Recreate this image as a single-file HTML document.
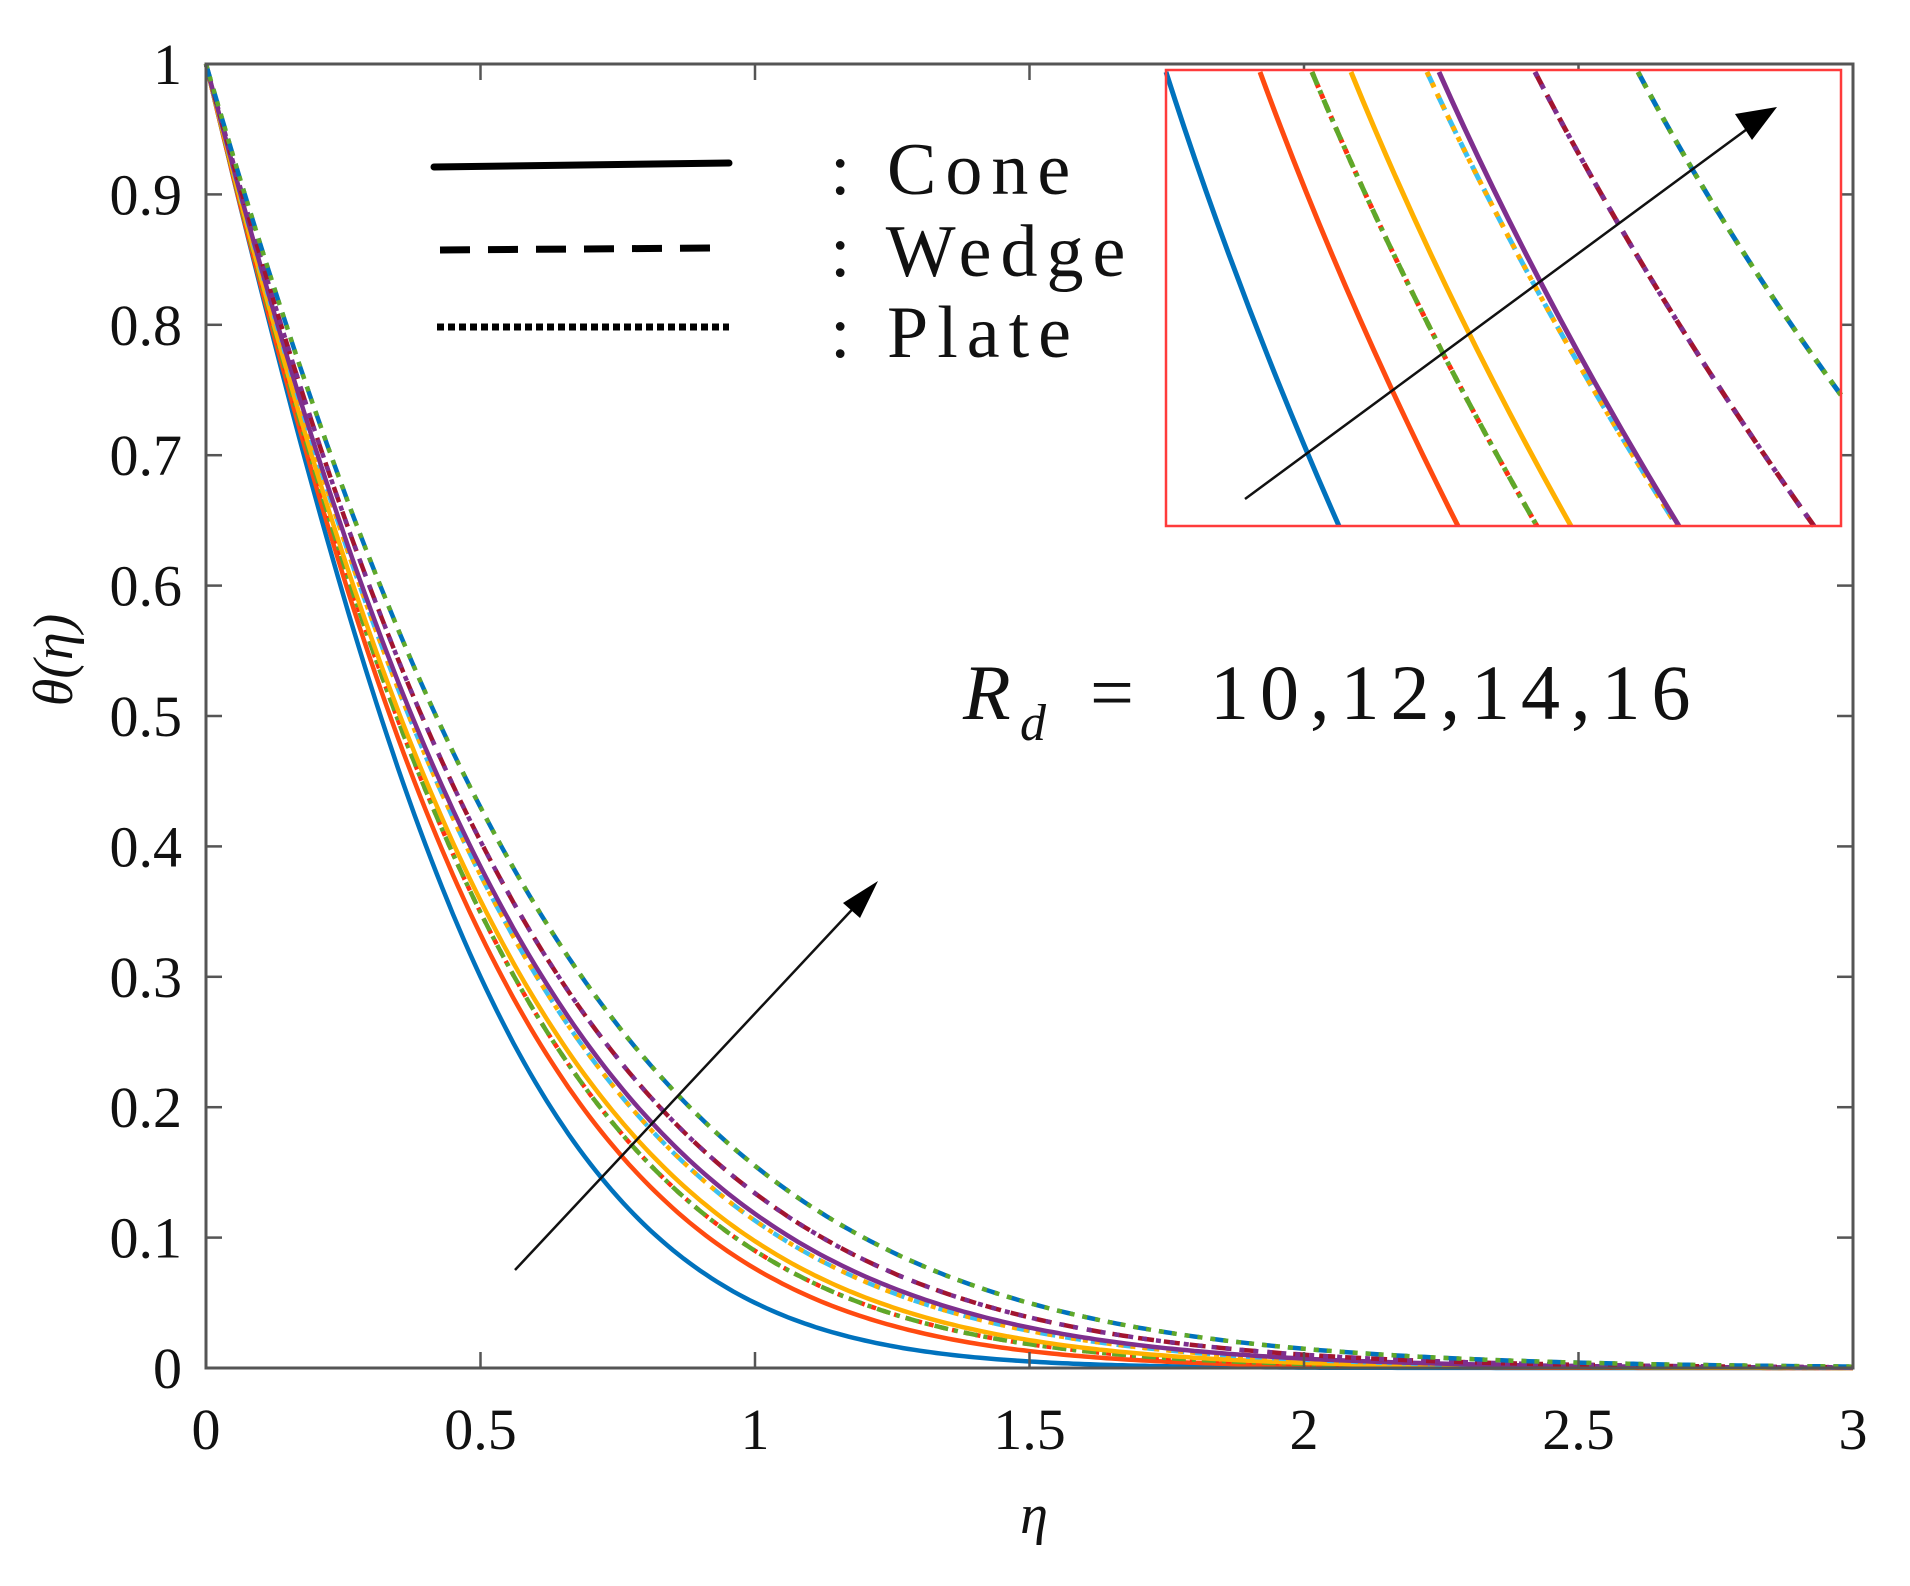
<!DOCTYPE html>
<html><head><meta charset="utf-8">
<style>
html,body{margin:0;padding:0;background:#fff;}
svg{display:block;}
text{font-family:"Liberation Serif","Times New Roman",serif;fill:#111;}
</style></head>
<body>
<svg id="s" width="1910" height="1586" viewBox="0 0 1910 1586" xmlns="http://www.w3.org/2000/svg">
<g id="curves"></g>
<g id="axes" stroke="#555" stroke-width="3" fill="none">
<rect x="206" y="64" width="1647" height="1304"/>
</g>
<g id="ticks" stroke="#555" stroke-width="2.5"></g>
<g id="labels" font-size="58"></g>

<line x1="434" y1="167" x2="729" y2="163" stroke="#000" stroke-width="7" stroke-linecap="round"/>
<line x1="440" y1="250" x2="712" y2="248" stroke="#000" stroke-width="7" stroke-dasharray="30,18"/>
<line x1="437" y1="327" x2="729" y2="327" stroke="#000" stroke-width="7" stroke-dasharray="7,4"/>
<text x="830" y="194" font-size="74" letter-spacing="9">: Cone</text>
<text x="830" y="276" font-size="74" letter-spacing="9">: Wedge</text>
<text x="830" y="357" font-size="74" letter-spacing="9">: Plate</text>

<text x="963" y="719" font-size="78" font-style="italic">R</text>
<text x="1020" y="740" font-size="52" font-style="italic">d</text>
<text x="1090" y="719" font-size="78">=</text>
<text x="1210" y="719" font-size="78" letter-spacing="11">10,12,14,16</text>

<g id="inset"></g>
<rect x="1166" y="70" width="675" height="456" fill="none" stroke="#ff3b3b" stroke-width="2.5"/>

<line x1="515" y1="1270" x2="862" y2="899" stroke="#111" stroke-width="2.5"/>
<polygon points="878,881 843,903 860,918" fill="#000"/>
<line x1="1245" y1="499" x2="1758" y2="121" stroke="#111" stroke-width="2.5"/>
<polygon points="1777,107 1735,114 1752,140" fill="#000"/>

<text x="0" y="0" font-size="56" font-style="italic" transform="translate(72,660) rotate(-90)" text-anchor="middle">θ(η)</text>
<text x="1034" y="1533" font-size="56" font-style="italic" text-anchor="middle">η</text>
</svg>
<script>
const NS="http://www.w3.org/2000/svg";
const X0=206,X1=1853,Y0=1368,Y1=64;
const px=e=>X0+(e/3)*(X1-X0), py=v=>Y0-v*(Y0-Y1);
function el(tag,attrs,parent){const e=document.createElementNS(NS,tag);for(const k in attrs)e.setAttribute(k,attrs[k]);parent.appendChild(e);return e;}
const C={blue:"#0072BD",orange:"#FF4A10",yellow:"#FFB000",purple:"#7E2F8E",green:"#5FA82A",cyan:"#3CC0F0",maroon:"#A2142F",red:"#FF3010"};
const curves=[
 [0,[[C.blue,"none"]]],
 [0.25,[[C.orange,"none"]]],
 [0.38,[[C.red,"5,7"],[C.green,"14,6,4,6"]]],
 [0.45,[[C.yellow,"none"]]],
 [0.6,[[C.cyan,"16,10"],[C.yellow,"5,7"]]],
 [0.65,[[C.purple,"none"]]],
 [0.8,[[C.maroon,"16,10"],[C.purple,"5,9"]]],
 [1,[[C.blue,"16,10"],[C.green,"5,8"]]]
];
const g=document.getElementById("curves");
curves.forEach(([t,styles])=>{
  const v05=0.30+0.13*t, v1=0.05+0.105*t;
  const k=0.1+0.25*t;
  const f=e=>1/(1+k*e);
  const L1=-Math.log(v1), L05=-Math.log(v05);
  const f1=f(1),f5=f(0.5);
  const b=(L1*0.5-L05)/(0.5*f1-0.25*f5), a=L1-b*f1;
  let d="";
  for(let i=0;i<=300;i++){const e=3*i/300;const v=Math.exp(-a*e-b*e*e*f(e));d+=(i?"L":"M")+px(e).toFixed(1)+","+py(v).toFixed(1);}
  styles.forEach(([c,da])=>el("path",{d,fill:"none",stroke:c,"stroke-width":4.5,"stroke-dasharray":da},g));
});
const tk=document.getElementById("ticks"),lb=document.getElementById("labels");
for(let i=0;i<=6;i++){const x=px(i*0.5);
  el("line",{x1:x,y1:Y0,x2:x,y2:Y0-16},tk);el("line",{x1:x,y1:Y1,x2:x,y2:Y1+16},tk);
  const t=el("text",{x:x,y:1449,"text-anchor":"middle"},lb);t.textContent=["0","0.5","1","1.5","2","2.5","3"][i];}
for(let i=0;i<=10;i++){const y=py(i/10);
  el("line",{x1:X0,y1:y,x2:X0+16,y2:y},tk);el("line",{x1:X1,y1:y,x2:X1-16,y2:y},tk);
  const t=el("text",{x:182,y:y+20,"text-anchor":"end"},lb);t.textContent=i==0?"0":i==10?"1":"0."+i;}
const ins=document.getElementById("inset");
el("rect",{x:1166,y:70,width:675,height:456,fill:"#fff"},ins);
const il=[
 [1166,1339,526,[[C.blue,"none"]]],
 [1260,1458,526,[[C.orange,"none"]]],
 [1312,1537,526,[[C.red,"5,7"],[C.green,"14,6,4,6"]]],
 [1351,1571,526,[[C.yellow,"none"]]],
 [1427,1677,526,[[C.cyan,"16,10"],[C.yellow,"5,7"]]],
 [1439,1679,526,[[C.purple,"none"]]],
 [1535,1814,526,[[C.maroon,"16,10"],[C.purple,"5,9"]]],
 [1638,1841,395,[[C.blue,"16,10"],[C.green,"5,8"]]]
];
il.forEach(([xa,xb,yb,st])=>{
  const d=`M${xa},72 Q${xa+(xb-xa)*0.42},${72+(yb-72)*0.5} ${xb},${yb}`;
  st.forEach(([c,da])=>el("path",{d,fill:"none",stroke:c,"stroke-width":5,"stroke-dasharray":da},ins));
});
</script>
</body></html>
